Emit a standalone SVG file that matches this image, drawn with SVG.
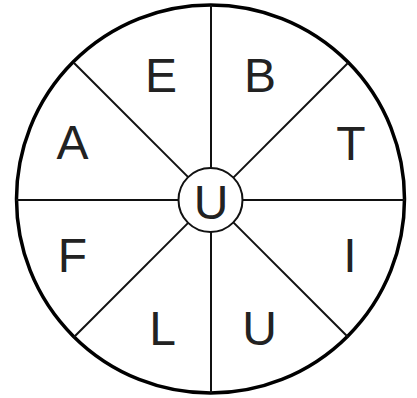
<svg xmlns="http://www.w3.org/2000/svg" width="417" height="398" viewBox="0 0 417 398">
<style>
.lbl{font-family:"Liberation Sans",Arial,sans-serif;font-size:48px;fill:#222;text-anchor:middle}
.ln{stroke:#111;stroke-width:2;fill:none}
</style>
<rect width="417" height="398" fill="#fff"/>
<g id="outer"><circle cx="210.5" cy="199" r="194" fill="none" stroke="#000" stroke-width="3.5"/></g>
<g id="connectors">
<line class="ln" x1="211" y1="5" x2="211" y2="168"/>
<line class="ln" x1="211" y1="232" x2="211" y2="393"/>
<line class="ln" x1="16" y1="200" x2="179" y2="200"/>
<line class="ln" x1="243" y1="200" x2="405" y2="200"/>
<line class="ln" x1="188.4" y1="177.4" x2="73.8" y2="62.8"/>
<line class="ln" x1="233.6" y1="177.4" x2="348.2" y2="62.8"/>
<line class="ln" x1="188.4" y1="222.6" x2="73.8" y2="337.2"/>
<line class="ln" x1="233.6" y1="222.6" x2="348.2" y2="337.2"/>
</g>
<g id="center"><circle cx="210.5" cy="200" r="32" fill="#fff" stroke="#111" stroke-width="2"/><text class="lbl" x="211" y="219">U</text></g>
<g id="E"><text class="lbl" x="161" y="92">E</text></g>
<g id="B"><text class="lbl" x="260" y="92">B</text></g>
<g id="A"><text class="lbl" x="72.5" y="159">A</text></g>
<g id="T"><text class="lbl" x="351" y="160">T</text></g>
<g id="F"><text class="lbl" x="72.5" y="272">F</text></g>
<g id="I"><text class="lbl" x="350" y="272">I</text></g>
<g id="L"><text class="lbl" x="162.5" y="345">L</text></g>
<g id="U2"><text class="lbl" x="259.5" y="345">U</text></g>
</svg>
